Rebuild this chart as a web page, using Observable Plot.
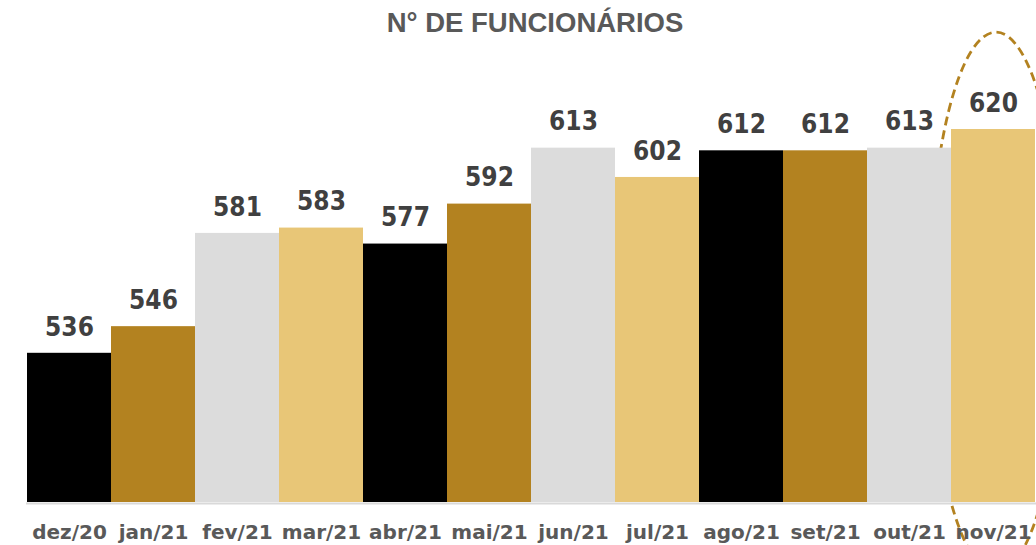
<!DOCTYPE html>
<html>
<head>
<meta charset="utf-8">
<script src="https://cdn.jsdelivr.net/npm/d3@7"></script>
<script src="https://cdn.jsdelivr.net/npm/@observablehq/plot@0.6"></script>
<style>
  html, body { margin: 0; padding: 0; background: #ffffff; }
  #chart { width: 1036px; height: 545px; overflow: hidden; }
  svg { display: block; }
</style>
</head>
<body>
<div id="chart"></div>
<script>
const months = ["dez/20","jan/21","fev/21","mar/21","abr/21","mai/21","jun/21","jul/21","ago/21","set/21","out/21","nov/21"];
const employees = [536, 546, 581, 583, 577, 592, 613, 602, 612, 612, 613, 620];
const barColors = ["#000000","#b38220","#dcdcdc","#e8c677"];
const title = "N° DE FUNCIONÁRIOS";
const highlighted = "nov/21";

const data = months.map((m, i) => ({month: m, value: employees[i], color: barColors[i % 4]}));

const ellipseMark = (index, scales, values, dimensions) => {
  const x = scales.x, y = scales.y;
  const cx = x(highlighted) + x.bandwidth() / 2 + 3;
  const cy = y(555);
  return d3.create("svg:ellipse")
    .attr("cx", cx).attr("cy", cy)
    .attr("rx", 67).attr("ry", 270)
    .attr("fill", "none")
    .attr("stroke", "#b38220")
    .attr("stroke-width", 2.8)
    .attr("stroke-dasharray", "9,5")
    .node();
};

const chart = Plot.plot({
  width: 1036,
  height: 545,
  marginLeft: 26,
  marginRight: 0,
  marginTop: 129,
  marginBottom: 43,
  style: {background: "#ffffff", overflow: "hidden"},
  x: {domain: months, padding: 0, label: null},
  y: {domain: [480, 620], axis: null},
  marks: [
    ellipseMark,
    Plot.barY(data, {x: "month", y1: 480, y2: "value", fill: "color"}),
    Plot.ruleY([480], {stroke: "#d9d9d9", strokeWidth: 2, dy: 1}),
    Plot.text(data, {
      x: "month", y: "value", text: d => String(d.value),
      dy: -26, lineAnchor: "middle",
      fontFamily: "'DejaVu Sans Condensed', 'DejaVu Sans'", fontWeight: "bold",
      fontSize: 26, fill: "#404040"
    }),
    Plot.axisX({
      tickSize: 0, tickPadding: 22, label: null,
      fontFamily: "'DejaVu Sans'", fontWeight: "bold", fontSize: 20, fill: "#595959"
    }),
    Plot.text([title], {
      frameAnchor: "top", dx: 3.5, dy: -106, lineAnchor: "middle",
      text: d => d,
      fontFamily: "'Liberation Sans'", fontWeight: "bold", fontSize: 27.5,
      fill: "#595959", letterSpacing: -1
    })
  ]
});
document.getElementById("chart").appendChild(chart);
</script>
</body>
</html>
